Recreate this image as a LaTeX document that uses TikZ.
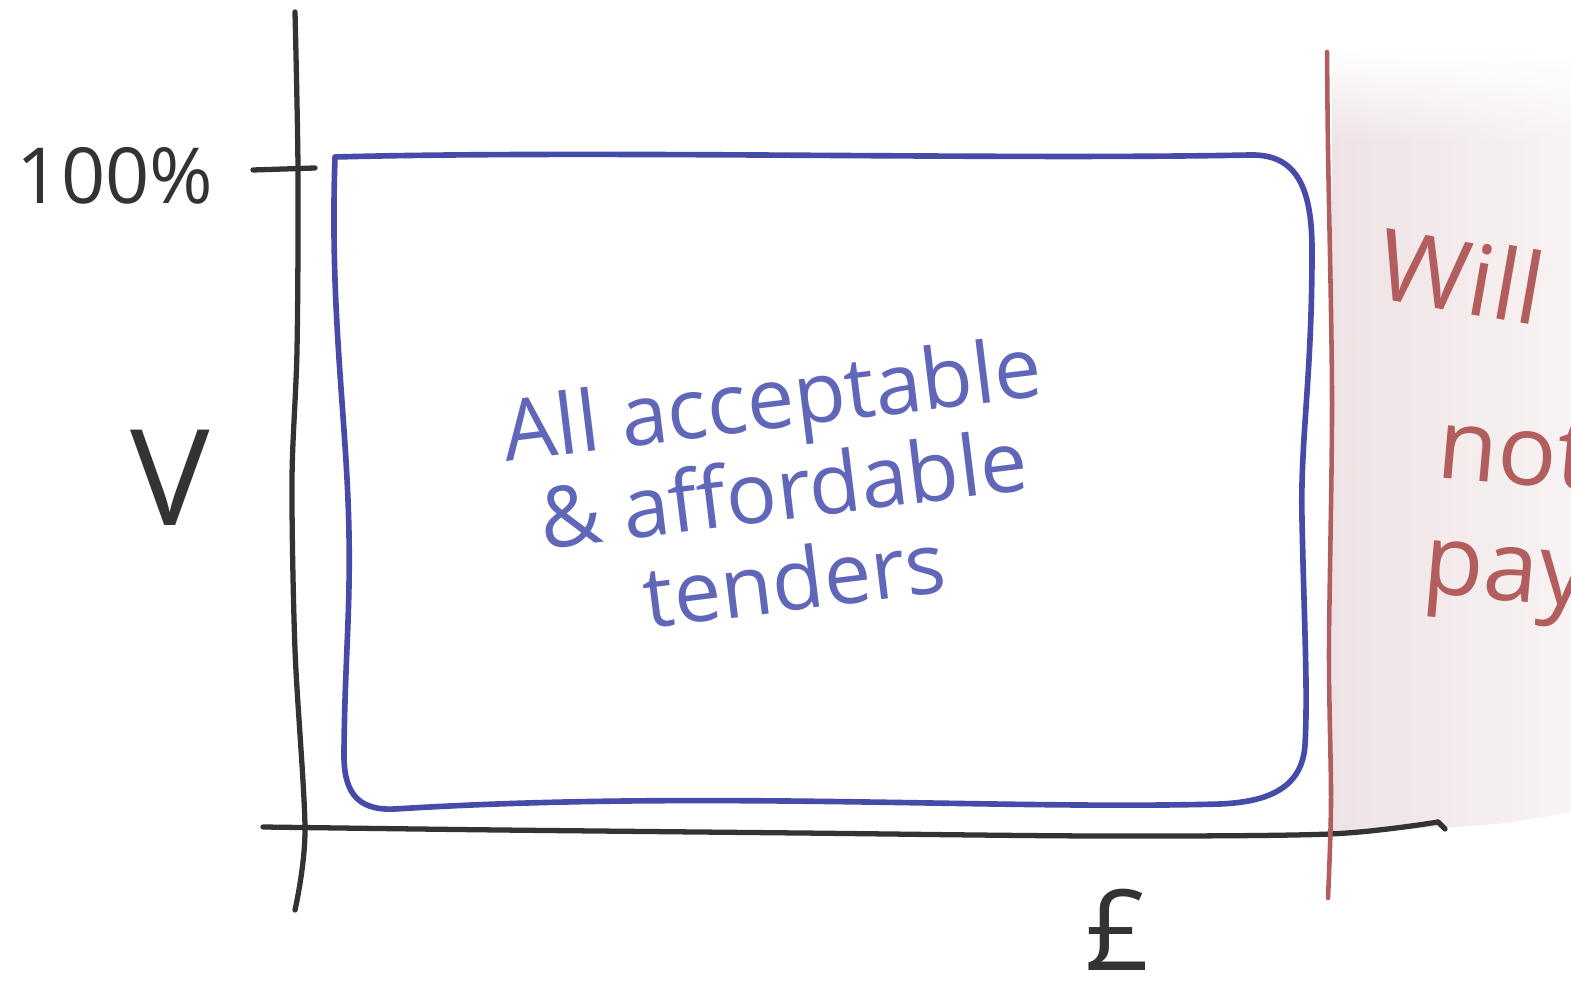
\documentclass[tikz,border=0pt]{standalone}
\usepackage{fontspec}
\setmainfont{Open Sans}
\usepackage{xcolor}
\usetikzlibrary{positioning, calc, fadings}

\definecolor{axisgrey}{RGB}{51,51,51}
\definecolor{boxblue}{RGB}{70,74,168}
\definecolor{textblue}{RGB}{96,102,184}
\definecolor{limitred}{RGB}{178,94,94}
\definecolor{shadepink}{RGB}{238,226,228}

\begin{document}
\begin{tikzpicture}[x=0.01cm, y=-0.01cm,
    axisline/.style={axisgrey, line width=1.5pt, line cap=round},
    boxline/.style={boxblue, line width=1.6pt, line join=round},
    limitline/.style={limitred, line width=1.3pt, line cap=round},
    axislabel/.style={axisgrey, inner sep=0pt},
    limitlabel/.style={limitred, font=\fontsize{28}{30}\selectfont}]
      \clip (0,0) rectangle (1571,983);

      % region beyond the limit
      \shade[left color=shadepink, right color=shadepink!35, path fading=north]
        (1332,50) rectangle (1600,141);
      \shade[left color=shadepink, right color=shadepink!35]
        (1332,140) -- (1600,140) -- (1600,806) .. controls (1500,826) .. (1332,832) -- cycle;

      % axes
      \draw[axisline] plot[smooth] coordinates {(295,12) (298,170) (297,350) (292,480) (295,650) (305,830) (295,910)};
      \draw[axisline] plot[smooth] coordinates {(263,827) (500,830) (800,833) (1100,836) (1330,834) (1438,822)};
      \draw[axisline] (1438,822) -- (1445,829);
      \draw[axisline] (253,170) -- (315,168);

      % acceptable region
      \draw[boxline] (335,157) .. controls (600,150) and (1000,160) .. (1250,155)
        .. controls (1295,154) and (1312,185) .. (1312,250)
        .. controls (1312,380) and (1300,440) .. (1302,520)
        .. controls (1304,620) and (1308,690) .. (1305,745)
        .. controls (1302,790) and (1265,802) .. (1220,804)
        .. controls (1000,810) and (700,790) .. (395,809)
        .. controls (355,811) and (343,790) .. (344,750)
        .. controls (345,650) and (352,600) .. (348,500)
        .. controls (344,400) and (330,300) .. (335,157) -- cycle;

      % price limit
      \draw[limitline] plot[smooth] coordinates {(1327,52) (1328,150) (1332,400) (1329,650) (1331,800) (1328,898)};

      \node[axislabel, font=\fontsize{22}{26}\selectfont] (full) at (115,176) {100\%};
      \node[axislabel, font=\fontsize{38}{40}\selectfont] (value) at (170,478) {V};
      \node[axislabel, font=\fontsize{32}{34}\selectfont] (price) at (1118,930) {£};

      \node[textblue, align=center, rotate=7, font=\fontsize{24}{26}\selectfont] (tenders) at (783,488)
        {All acceptable\\ \& affordable\\ tenders};

      \node[limitlabel, rotate=-10] (will) at (1462,275) {Will};
      \node[limitlabel, rotate=-5] (not) at (1515,452) {not};
      \node[limitlabel, rotate=-5] (pay) at (1505,585) {pay};
    \end{tikzpicture}
\end{document}
